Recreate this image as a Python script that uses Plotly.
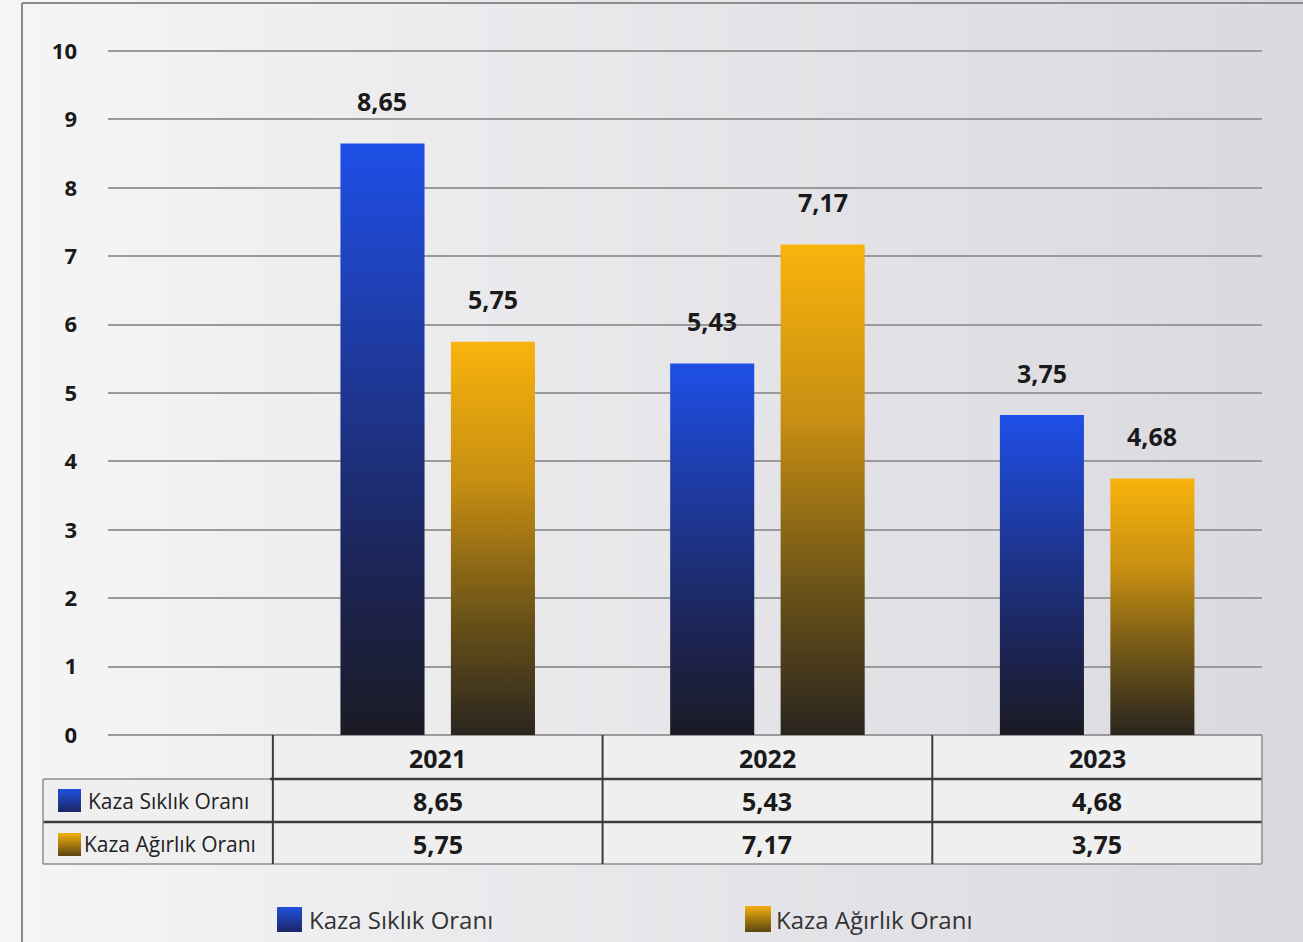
import plotly.graph_objects as go

W, H = 1303, 942

# ---------------- data ----------------
years = ["2021", "2022", "2023"]
siklik = [8.65, 5.43, 4.68]          # Kaza Sıklık Oranı
agirlik = [5.75, 7.17, 3.75]         # Kaza Ağırlık Oranı
siklik_bar_labels = ["8,65", "5,43", "3,75"]   # labels as printed above bars
agirlik_bar_labels = ["5,75", "7,17", "4,68"]
series_names = ["Kaza Sıklık Oranı", "Kaza Ağırlık Oranı"]
y_ticks = list(range(0, 11))


def fmt(v):
    return f"{v:.2f}".replace(".", ",")


def px(x):
    return x / W


def py(y):
    return 1 - y / H


FONT = "Open Sans"
BLUE_SCALE = [[0, "#1b1b24"], [0.25, "#1c2350"], [0.6, "#1e3796"], [1, "#1f4fe8"]]
GOLD_SCALE = [[0, "#2a251f"], [0.3, "#6b5318"], [0.65, "#c88f12"], [1, "#f8b30c"]]
BLUE_KEY = [[0, "#1c2668"], [1, "#2050dc"]]
GOLD_KEY = [[0, "#5a4512"], [1, "#f5b00c"]]

fig = go.Figure()

# ---------------- bars (gradient filled) ----------------
BAR_W = 0.255
GAP = 0.04
for i in range(len(years)):
    for val, offs, scale in [(siklik[i], -GAP - BAR_W, BLUE_SCALE),
                             (agirlik[i], GAP, GOLD_SCALE)]:
        x0 = i + offs
        x1 = x0 + BAR_W
        fig.add_trace(go.Scatter(
            x=[x0, x1, x1, x0, x0], y=[0, 0, val, val, 0],
            mode="lines", fill="toself",
            fillgradient=dict(type="vertical", colorscale=scale),
            line=dict(width=0), hoverinfo="skip", showlegend=False,
            xaxis="x", yaxis="y"))

# bar value labels
LABEL_OFF = 0.62
for i in range(len(years)):
    for val, offs, lab in [(siklik[i], -GAP - BAR_W / 2, siklik_bar_labels[i]),
                           (agirlik[i], GAP + BAR_W / 2, agirlik_bar_labels[i])]:
        fig.add_annotation(x=i + offs, y=val + LABEL_OFF, xref="x", yref="y",
                           xanchor="center", yanchor="middle",
                           text=lab, showarrow=False,
                           font=dict(family=FONT, size=25, color="#1a1a1a", weight="bold"))

# ---------------- legend keys (overlay pixel subplot) ----------------
def key_square(x0, y0, x1, y1, scale):
    fig.add_trace(go.Scatter(
        x=[x0, x1, x1, x0, x0], y=[H - y1, H - y1, H - y0, H - y0, H - y1],
        mode="lines", fill="toself",
        fillgradient=dict(type="vertical", colorscale=scale),
        line=dict(width=0), hoverinfo="skip", showlegend=False,
        xaxis="x2", yaxis="y2"))

key_square(58, 789, 81, 812, BLUE_KEY)
key_square(58, 833, 81, 856, GOLD_KEY)
key_square(277, 907, 302, 932, BLUE_KEY)
key_square(745, 906, 771, 932, GOLD_KEY)

shapes = []

# ---------------- background gradient ----------------
N = 70
c0 = (245, 245, 247)
c1 = (217, 217, 222)
for k in range(N):
    t = k / (N - 1)
    c = tuple(round(c0[j] + (c1[j] - c0[j]) * t) for j in range(3))
    shapes.append(dict(type="rect", xref="paper", yref="paper",
                       x0=k / N, x1=(k + 1) / N + 0.002, y0=0, y1=1,
                       fillcolor=f"rgb{c}", line=dict(width=0), layer="below"))

# frame
shapes.append(dict(type="line", xref="paper", yref="paper", x0=px(22), x1=px(22),
                   y0=py(3), y1=0, line=dict(color="#8c8c8c", width=2)))
shapes.append(dict(type="line", xref="paper", yref="paper", x0=px(22), x1=1,
                   y0=py(3), y1=py(3), line=dict(color="#8c8c8c", width=2)))

# ---------------- table ----------------
CELL = "#efeff0"
shapes.append(dict(type="rect", xref="paper", yref="paper", x0=px(270), x1=px(1262),
                   y0=py(779), y1=py(735), fillcolor=CELL, line=dict(width=0), layer="below"))
shapes.append(dict(type="rect", xref="paper", yref="paper", x0=px(43), x1=px(1262),
                   y0=py(864), y1=py(779), fillcolor=CELL, line=dict(width=0), layer="below"))

DARK = "#3c3c3c"
GRAY = "#8e8e8e"
shapes.append(dict(type="line", xref="paper", yref="paper", x0=px(43), x1=px(270),
                   y0=py(779), y1=py(779), line=dict(color=GRAY, width=1.5)))
shapes.append(dict(type="line", xref="paper", yref="paper", x0=px(270), x1=px(1262),
                   y0=py(779), y1=py(779), line=dict(color=DARK, width=2.5)))
shapes.append(dict(type="line", xref="paper", yref="paper", x0=px(43), x1=px(1262),
                   y0=py(822), y1=py(822), line=dict(color=DARK, width=2.5)))
shapes.append(dict(type="line", xref="paper", yref="paper", x0=px(43), x1=px(1262),
                   y0=py(864), y1=py(864), line=dict(color=GRAY, width=1.5)))
shapes.append(dict(type="line", xref="paper", yref="paper", x0=px(43), x1=px(43),
                   y0=py(779), y1=py(864), line=dict(color=GRAY, width=1.5)))
shapes.append(dict(type="line", xref="paper", yref="paper", x0=px(1262), x1=px(1262),
                   y0=py(735), y1=py(864), line=dict(color=GRAY, width=1.5)))
for i in range(len(years)):
    shapes.append(dict(type="line", xref="x", yref="paper", x0=i - 0.5, x1=i - 0.5,
                       y0=py(735), y1=py(864), line=dict(color=DARK, width=2)))

fig.update_layout(shapes=shapes)

# table text
TF = dict(family=FONT, size=25, color="#1a1a1a", weight="bold")
for i, yr in enumerate(years):
    fig.add_annotation(x=i, y=py(758), xref="x", yref="paper", text=yr, showarrow=False,
                       xanchor="center", yanchor="middle", font=TF)
    fig.add_annotation(x=i, y=py(801), xref="x", yref="paper", text=fmt(siklik[i]),
                       showarrow=False, xanchor="center", yanchor="middle", font=TF)
    fig.add_annotation(x=i, y=py(844), xref="x", yref="paper", text=fmt(agirlik[i]),
                       showarrow=False, xanchor="center", yanchor="middle", font=TF)

fig.add_annotation(x=px(86), y=py(801), xref="paper", yref="paper", text=series_names[0],
                   xanchor="left", yanchor="middle", showarrow=False,
                   font=dict(family=FONT, size=21, color="#222222"))
fig.add_annotation(x=px(82), y=py(844), xref="paper", yref="paper", text=series_names[1],
                   xanchor="left", yanchor="middle", showarrow=False,
                   font=dict(family=FONT, size=21, color="#222222"))

# bottom legend text
fig.add_annotation(x=px(307), y=py(919), xref="paper", yref="paper", text=series_names[0],
                   xanchor="left", yanchor="middle", showarrow=False,
                   font=dict(family=FONT, size=24, color="#333333"))
fig.add_annotation(x=px(774), y=py(919), xref="paper", yref="paper", text=series_names[1],
                   xanchor="left", yanchor="middle", showarrow=False,
                   font=dict(family=FONT, size=24, color="#333333"))

# ---------------- layout ----------------
fig.update_layout(
    template="none",
    width=W, height=H,
    margin=dict(l=0, r=0, t=0, b=0, pad=0, autoexpand=False),
    paper_bgcolor="#e6e6e9",
    plot_bgcolor="rgba(0,0,0,0)",
    showlegend=False,
    xaxis=dict(domain=[px(108), px(1262)], range=[-1.0, 2.5], visible=False,
               fixedrange=True, automargin=False),
    yaxis=dict(domain=[py(735), py(49)], range=[0, 10.03], tickvals=y_ticks,
               ticktext=[str(v) for v in y_ticks],
               showgrid=True, gridcolor="#9a9a9a", gridwidth=1.5,
               zeroline=True, zerolinecolor="#9a9a9a", zerolinewidth=1.5,
               showline=False, ticks="", ticklabelstandoff=30, automargin=False,
               tickfont=dict(family=FONT, size=22, color="#1a1a1a", weight="bold"),
               fixedrange=True),
    xaxis2=dict(domain=[0, 1], range=[0, W], visible=False, fixedrange=True,
                anchor="y2", automargin=False),
    yaxis2=dict(domain=[0, 1], range=[0, H], visible=False, fixedrange=True,
                anchor="x2", automargin=False),
)

fig.write_html("out.html")
